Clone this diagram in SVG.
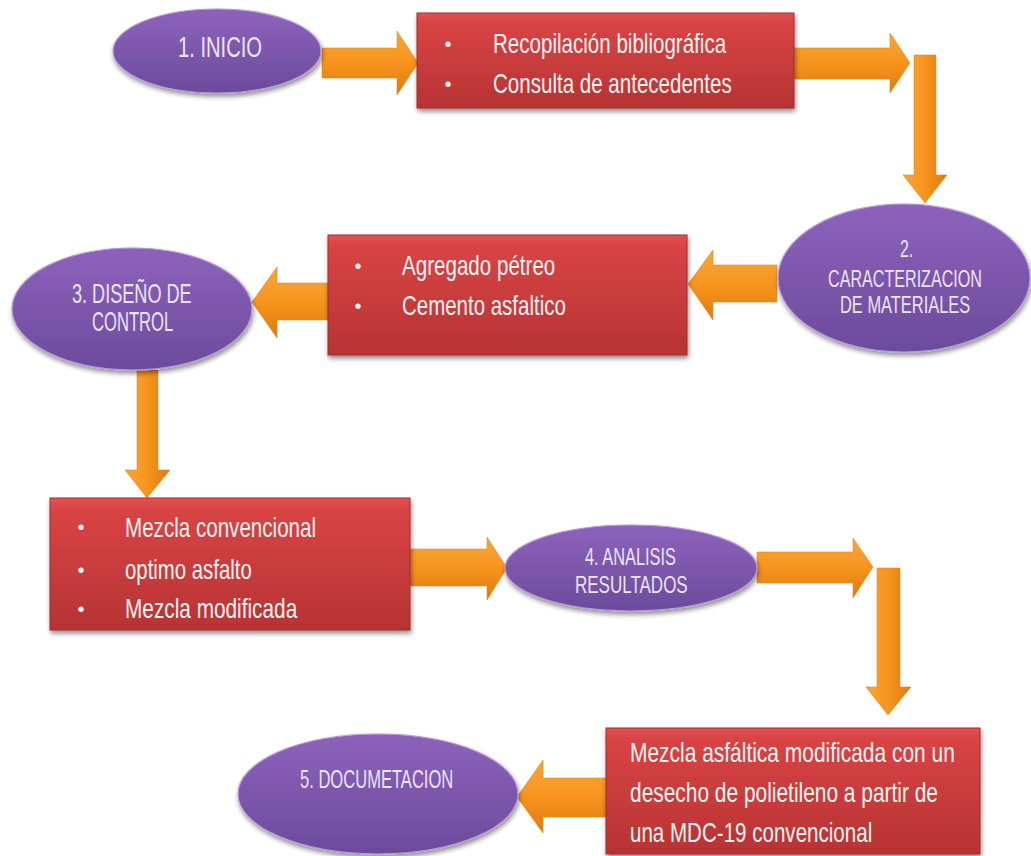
<svg xmlns="http://www.w3.org/2000/svg" width="1031" height="856" viewBox="0 0 1031 856">
<defs>
<linearGradient id="gRed" x1="0" y1="0" x2="0" y2="1">
<stop offset="0" stop-color="#e65252"/>
<stop offset="0.08" stop-color="#d94444"/>
<stop offset="1" stop-color="#b73333"/>
</linearGradient>
<linearGradient id="gPur" x1="0" y1="0" x2="0" y2="1">
<stop offset="0" stop-color="#8e62bc"/>
<stop offset="1" stop-color="#6b4b9c"/>
</linearGradient>
<linearGradient id="gOrH" x1="0" y1="0" x2="0" y2="1">
<stop offset="0" stop-color="#f8a63a"/>
<stop offset="0.5" stop-color="#f7941d"/>
<stop offset="1" stop-color="#dc7a10"/>
</linearGradient>
<linearGradient id="gOrV" x1="0" y1="0" x2="1" y2="0">
<stop offset="0" stop-color="#f8a63a"/>
<stop offset="0.5" stop-color="#f7941d"/>
<stop offset="1" stop-color="#dc7a10"/>
</linearGradient>
<filter id="sh" x="-10%" y="-10%" width="125%" height="130%">
<feGaussianBlur in="SourceAlpha" stdDeviation="2.5"/>
<feOffset dx="1" dy="3" result="b"/>
<feComponentTransfer><feFuncA type="linear" slope="0.45"/></feComponentTransfer>
<feMerge><feMergeNode/><feMergeNode in="SourceGraphic"/></feMerge>
</filter>
</defs>
<style>
.box{fill:url(#gRed);stroke:#a52a2a;stroke-width:1;filter:url(#sh)}
.ell{fill:url(#gPur);stroke:#b79ad6;stroke-width:1.2;filter:url(#sh)}
.ah{fill:url(#gOrH);stroke:#e08a20;stroke-width:0.6}
.av{fill:url(#gOrV);stroke:#e08a20;stroke-width:0.6}
.t{font-family:"Liberation Sans",Arial,sans-serif;fill:#fdf2f2;font-size:28px}
.e{font-family:"Liberation Sans",Arial,sans-serif;fill:#ece4f4}
.b{font-family:"Liberation Sans",Arial,sans-serif;fill:#fdf2f2;font-size:20px;text-anchor:middle}
</style>
<rect width="1031" height="856" fill="#ffffff"/>

<g id="connectors">
<polygon class="ah" points="322,48 397,48 397,31 418,63 397,95 397,78 322,78"/>
<polygon class="ah" points="793,48 890,48 890,33 910,63 890,93 890,79 793,79"/>
<polygon class="av" points="914,55 936,55 936,175 947,175 925,203 903,175 914,175"/>
<polygon class="ah" points="777,265 713,265 713,250 688,284 713,320 713,302 777,302"/>
<polygon class="ah" points="328,283 277,283 277,267 252,302 277,338 277,320 328,320"/>
<polygon class="av" points="137,370 158,370 158,470 170,470 147,498 125,470 137,470"/>
<polygon class="ah" points="410,549 487,549 487,537 507,568 487,600 487,586 410,586"/>
<polygon class="ah" points="757,552 853,552 853,538 873,567 853,598 853,583 757,583"/>
<polygon class="av" points="877,568 900,568 900,687 911,687 888,715 866,687 877,687"/>
<polygon class="ah" points="607,778 543,778 543,760 517,797 543,833 543,817 607,817"/>
</g>

<g id="n1">
<ellipse class="ell" cx="217" cy="51" rx="104" ry="42"/>
<text class="e" transform="translate(178,57) scale(0.7,1)" font-size="30" textLength="120" lengthAdjust="spacingAndGlyphs">1. INICIO</text>
</g>

<g id="r1">
<rect class="box" x="417" y="13" width="377" height="95"/>
<text class="b" x="448" y="51">•</text>
<text class="b" x="448" y="91">•</text>
<text class="t" transform="translate(493,53) scale(0.7,1)" textLength="333" lengthAdjust="spacingAndGlyphs">Recopilación  bibliográfica</text>
<text class="t" transform="translate(493,93) scale(0.7,1)" textLength="341" lengthAdjust="spacingAndGlyphs">Consulta  de  antecedentes</text>
</g>

<g id="n2">
<ellipse class="ell" cx="904" cy="278" rx="126" ry="74"/>
<text class="e" transform="translate(900,257) scale(0.7,1)" font-size="24" textLength="19" lengthAdjust="spacingAndGlyphs">2.</text>
<text class="e" transform="translate(828,287) scale(0.7,1)" font-size="24" textLength="220" lengthAdjust="spacingAndGlyphs">CARACTERIZACION</text>
<text class="e" transform="translate(840,313) scale(0.7,1)" font-size="24" textLength="186" lengthAdjust="spacingAndGlyphs">DE MATERIALES</text>
</g>

<g id="r2">
<rect class="box" x="328" y="235" width="359" height="120"/>
<text class="b" x="358" y="273">•</text>
<text class="b" x="358" y="313">•</text>
<text class="t" transform="translate(402,275) scale(0.7,1)" textLength="219" lengthAdjust="spacingAndGlyphs">Agregado  pétreo</text>
<text class="t" transform="translate(402,315) scale(0.7,1)" textLength="234" lengthAdjust="spacingAndGlyphs">Cemento  asfaltico</text>
</g>

<g id="n3">
<ellipse class="ell" cx="132" cy="309" rx="120" ry="61"/>
<text class="e" transform="translate(72,303) scale(0.7,1)" font-size="27" textLength="171" lengthAdjust="spacingAndGlyphs">3. DISEÑO DE</text>
<text class="e" transform="translate(92,331) scale(0.7,1)" font-size="27" textLength="116" lengthAdjust="spacingAndGlyphs">CONTROL</text>
</g>

<g id="r3">
<rect class="box" x="50" y="498" width="360" height="132"/>
<text class="b" x="81" y="534">•</text>
<text class="b" x="81" y="577">•</text>
<text class="b" x="81" y="616">•</text>
<text class="t" transform="translate(125,537) scale(0.7,1)" textLength="273" lengthAdjust="spacingAndGlyphs">Mezcla convencional</text>
<text class="t" transform="translate(125,579) scale(0.7,1)" textLength="181" lengthAdjust="spacingAndGlyphs">optimo asfalto</text>
<text class="t" transform="translate(125,618) scale(0.7,1)" textLength="246" lengthAdjust="spacingAndGlyphs">Mezcla modificada</text>
</g>

<g id="n4">
<ellipse class="ell" cx="631" cy="568" rx="126" ry="43"/>
<text class="e" transform="translate(585,565) scale(0.7,1)" font-size="23" textLength="130" lengthAdjust="spacingAndGlyphs">4. ANALISIS</text>
<text class="e" transform="translate(575,593) scale(0.7,1)" font-size="23" textLength="161" lengthAdjust="spacingAndGlyphs">RESULTADOS</text>
</g>

<g id="r4">
<rect class="box" x="606" y="728" width="374" height="126"/>
<text class="t" transform="translate(630,762) scale(0.7,1)" textLength="464" lengthAdjust="spacingAndGlyphs">Mezcla asfáltica modificada con un</text>
<text class="t" transform="translate(630,802) scale(0.7,1)" textLength="440" lengthAdjust="spacingAndGlyphs">desecho de polietileno  a partir de</text>
<text class="t" transform="translate(630,842) scale(0.7,1)" textLength="346" lengthAdjust="spacingAndGlyphs">una MDC-19 convencional</text>
</g>

<g id="n5">
<ellipse class="ell" cx="378" cy="794" rx="140" ry="60"/>
<text class="e" transform="translate(300,788) scale(0.7,1)" font-size="25" textLength="219" lengthAdjust="spacingAndGlyphs">5. DOCUMETACION</text>
</g>
</svg>
